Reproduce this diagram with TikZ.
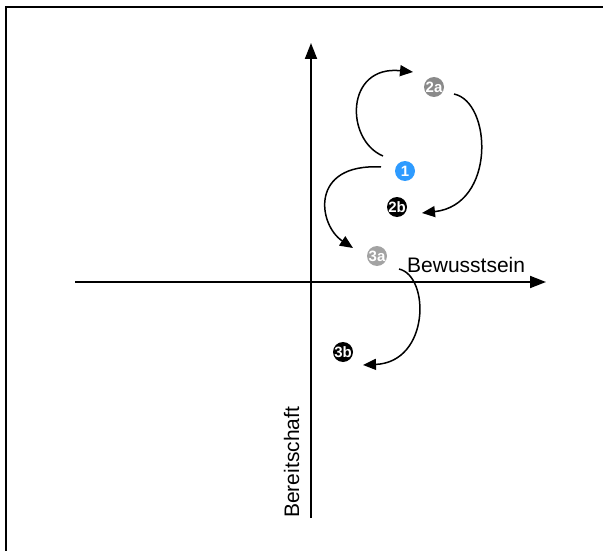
\documentclass[tikz,border=0pt]{standalone}
\usepackage{fontspec}
\setmainfont{Liberation Sans}
\usetikzlibrary{arrows.meta}
\definecolor{badgeblue}{HTML}{2E9BFF}
\definecolor{badgegray}{HTML}{8A8A8A}
\definecolor{badgelight}{HTML}{A3A3A3}
\begin{document}
\begin{tikzpicture}[x=1pt,y=-1pt,
  badge/.style={circle,inner sep=0pt,minimum size=20pt,text=white,font=\fontsize{15}{15}\selectfont\bfseries},
  axis/.style={line width=1.8pt,-{Triangle[length=16pt,width=12pt]}},
  curvearrow/.style={line width=1.5pt,-{Triangle[length=13pt,width=11pt]}},
  lbl/.style={font=\fontsize{21}{24}\selectfont,inner sep=0pt}]
\useasboundingbox (0,0) rectangle (603,551);
% frame (only top and left visible)
\draw[line width=1.8pt] (6,551) -- (6,7) -- (603,7);
% axes
\coordinate (xl) at (75,282);
\coordinate (xr) at (546,282);
\coordinate (yb) at (311,518);
\coordinate (yt) at (311,43);
\draw[axis] (xl) -- (xr);
\draw[axis] (yb) -- (yt);
\node[lbl,anchor=base west] (bew) at (407,272) {Bewusstsein};
\node[lbl,anchor=base west,rotate=90] (ber) at (299,518) {Bereitschaft};
% badges
\node[badge,fill=badgeblue] (b1) at (405,171) {1};
\node[badge,fill=badgegray] (b2a) at (434,87) {\kern-0.5pt2a\kern-0.5pt};
\node[badge,fill=black] (b2b) at (397,207) {\kern-0.5pt2b\kern-0.5pt};
\node[badge,fill=badgelight] (b3a) at (377,256) {\kern-0.5pt3a\kern-0.5pt};
\node[badge,fill=black] (b3b) at (343,352) {\kern-0.5pt3b\kern-0.5pt};
% curve endpoints
\coordinate (s1) at (383,156);
\coordinate (e1) at (413,72);
\coordinate (s2) at (454,94);
\coordinate (e2) at (422,213);
\coordinate (s3) at (381,167);
\coordinate (e3) at (353,248);
\coordinate (s4) at (399,269);
\coordinate (e4) at (363,365);
\draw[curvearrow] (s1) .. controls (345,140) and (345,65) .. (e1);
\draw[curvearrow] (s2) .. controls (492,102) and (496,205) .. (e2);
\draw[curvearrow] (s3) .. controls (309,163) and (318,225) .. (e3);
\draw[curvearrow] (s4) .. controls (430,276) and (430,362) .. (e4);
\end{tikzpicture}
\end{document}
